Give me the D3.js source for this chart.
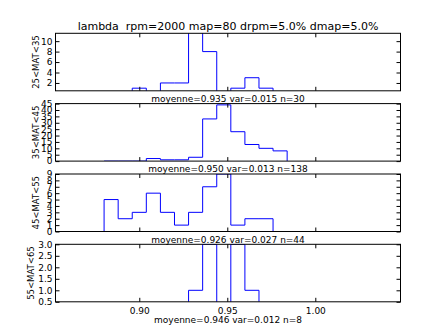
<!DOCTYPE html>
<html><head><meta charset="utf-8">
<script src="https://cdn.jsdelivr.net/npm/d3@7"></script>
<style>body{margin:0;background:#fff}svg{display:block}text{font-family:"DejaVu Sans",sans-serif;fill:#000;white-space:pre}</style>
</head><body>
<script>
const title = "lambda  rpm=2000 map=80 drpm=5.0% dmap=5.0%";
const binEdges = [0.880,0.888,0.896,0.904,0.912,0.920,0.928,0.936,0.944,0.952,0.960,0.968,0.976,0.984];
const panelLabels = ["25<MAT<35","35<MAT<45","45<MAT<55","55<MAT<65"];
const statsLabels = ["moyenne=0.935 var=0.015 n=30","moyenne=0.950 var=0.013 n=138","moyenne=0.926 var=0.027 n=44","moyenne=0.946 var=0.012 n=8"];
const counts1 = [0,0,1,0,2,2,12,8,0,1,3,1,0];
const counts2 = [0,0,0,2,1,1,3,33,44,23,13,10,8];
const counts3 = [5,2,3,6,3,1,3,7,9,1,2,2,0];
const counts4 = [0,0,0,0,0,0,1,3,0,3,1,0,0];
const yDomains = [[0.5,11.5],[0,45],[0,9],[0.5,3.0]];
const yTicks1 = [2,4,6,8,10];
const yTicks2 = [0,5,10,15,20,25,30,35,40,45];
const yTicks3 = [0,1,2,3,4,5,6,7,8,9];
const yTicks4 = [0.5,1.0,1.5,2.0,2.5,3.0];
const xTicks = [0.90,0.95,1.00];
const xDomain = [0.8524,1.0484];

const W=445,H=336;
const svg=d3.select("body").append("svg").attr("width",W).attr("height",H);
const left=55.5,right=400.5,ph=57.5,tops=[33.3,103.6,174,244.3];
const x=d3.scaleLinear().domain(xDomain).range([left,right]);
const allCounts=[counts1,counts2,counts3,counts4];
const allTicks=[yTicks1,yTicks2,yTicks3,yTicks4];
const fmts=[d3.format("d"),d3.format("d"),d3.format("d"),d3.format(".1f")];

svg.append("text").attr("x",(left+right)/2).attr("y",29.5).attr("text-anchor","middle")
  .style("font-size","11px").text(title);

allCounts.forEach((counts,i)=>{
  const top=tops[i], bot=top+ph;
  const y=d3.scaleLinear().domain(yDomains[i]).range([bot,top]);
  const g=svg.append("g");
  const cid="clip"+i;
  svg.append("clipPath").attr("id",cid).append("rect").attr("x",left).attr("y",top).attr("width",right-left).attr("height",ph);
  const pts=[[binEdges[0],0]];
  counts.forEach((c,k)=>{pts.push([binEdges[k],c]);pts.push([binEdges[k+1],c]);});
  pts.push([binEdges[binEdges.length-1],0]);
  const line=d3.line().x(d=>x(d[0])).y(d=>y(d[1]));
  g.append("path").attr("d",line(pts)).attr("fill","none").attr("stroke","#0000ff")
    .attr("stroke-width",1).attr("clip-path",`url(#${cid})`);
  g.append("rect").attr("x",left).attr("y",top).attr("width",right-left).attr("height",ph)
    .attr("fill","none").attr("stroke","#000").attr("stroke-width",1);
  const yAxisL=d3.axisLeft(y).tickValues(allTicks[i]).tickSize(-4).tickPadding(3).tickFormat(fmts[i]);
  const yAxisR=d3.axisRight(y).tickValues(allTicks[i]).tickSize(-4).tickFormat("");
  const xAxisB=d3.axisBottom(x).tickValues(xTicks).tickSize(-4).tickPadding(6).tickFormat(i===3?d3.format(".2f"):"");
  const xAxisT=d3.axisTop(x).tickValues(xTicks).tickSize(-4).tickFormat("");
  g.append("g").attr("transform",`translate(${left},0)`).call(yAxisL);
  g.append("g").attr("transform",`translate(${right},0)`).call(yAxisR);
  g.append("g").attr("transform",`translate(0,${bot})`).call(xAxisB);
  g.append("g").attr("transform",`translate(0,${top})`).call(xAxisT);
  g.selectAll(".domain").remove();
  g.selectAll(".tick line").attr("stroke","#000");
  g.selectAll(".tick text").style("font-size","9px").attr("font-family",null);
  g.append("text").attr("transform",`translate(${i===3?33.5:38.5},${top+ph/2}) rotate(-90)`).attr("text-anchor","middle")
    .style("font-size","8.5px").text(panelLabels[i]);
  g.append("text").attr("x",(left+right)/2).attr("y",i===3?bot+21.5:bot+11).attr("text-anchor","middle")
    .style("font-size","9px").text(statsLabels[i]);
});
</script>
</body></html>
